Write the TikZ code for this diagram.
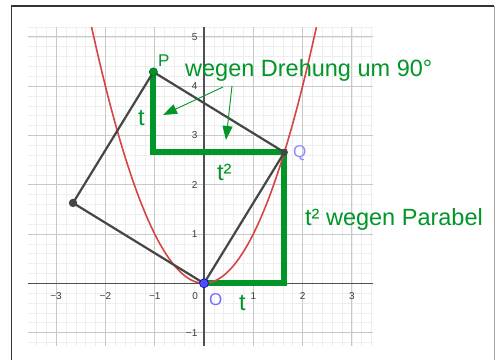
\documentclass[tikz,border=0pt]{standalone}
\usepackage{fontspec}
\setmainfont{Liberation Sans}
\usetikzlibrary{arrows.meta}
\definecolor{gg}{RGB}{0,150,40}
\definecolor{ggdark}{RGB}{0,110,30}
\definecolor{seg}{RGB}{70,70,70}
\definecolor{para}{RGB}{212,70,70}
\definecolor{ptblue}{RGB}{77,77,255}
\definecolor{lblblue}{RGB}{110,110,255}
\definecolor{lblq}{RGB}{140,140,255}
\definecolor{gridmaj}{RGB}{200,200,200}
\definecolor{gridmin}{RGB}{238,238,238}
\definecolor{axisc}{RGB}{80,80,80}
\definecolor{tickc}{RGB}{60,60,60}
\tikzset{
  bigtext/.style={text=gg, font=\fontsize{23.5}{28}\selectfont, inner sep=0pt},
  ptlabel/.style={font=\fontsize{17}{20}\selectfont, inner sep=0pt},
  ticklbl/.style={text=tickc, font=\fontsize{10}{12}\selectfont, inner sep=0pt},
  minorgrid/.style={gridmin, line width=0.6pt},
  majorgrid/.style={gridmaj, line width=0.9pt},
  axisline/.style={axisc, line width=1.1pt},
  segline/.style={seg, line width=2.2pt},
  greenline/.style={gg, line width=6pt, line join=miter},
  pointer/.style={gg, line width=0.9pt, -{Triangle[length=14pt,width=10pt]}},
}
\begin{document}
\begin{tikzpicture}[x=1pt,y=1pt]
\useasboundingbox (0,0) rectangle (495,360);
\fill[white] (0,0) rectangle (495,360);
% frame
\draw[black!80, line width=1.2pt] (11.5,0) -- (11.5,354) -- (494,354);
\draw[black!35, line width=1pt] (494,354) -- (494,0);

\begin{scope}[shift={(204,76.7)}, x=49.3pt, y=49.3pt]
  % minor grid
  \foreach \i in {-17,...,17} \draw[minorgrid] (\i/5,-1.265) -- (\i/5,5.2);
  \foreach \j in {-6,...,26} \draw[minorgrid] (-3.57,\j/5) -- (3.43,\j/5);
  % major grid
  \foreach \i in {-3,...,3} \draw[majorgrid] (\i,-1.265) -- (\i,5.2);
  \foreach \j in {-1,...,5} \draw[majorgrid] (-3.57,\j) -- (3.43,\j);
  % axes
  \draw[axisline] (-3.57,0) -- (3.43,0);
  \draw[axisline] (0,-1.265) -- (0,5.2);
  % tick labels
  \foreach \v/\s in {-3/−3,-2/−2,-1/−1,1/1,2/2,3/3}
    \node[ticklbl, anchor=base] (xt\v) at (\v,-0.32) {\s};
  \node[ticklbl, anchor=base east] (x0) at (-0.12,-0.32) {0};
  \foreach \v/\s in {-1/−1,1/1,2/2,3/3,4/4,5/5}
    \node[ticklbl, anchor=east] (yt\v) at (-0.13,\v) {\s};

  \def\t{1.63}
  \pgfmathsetmacro{\tt}{\t*\t}
  \coordinate (O) at (0,0);
  \coordinate (Q) at (\t,\tt);
  \coordinate (P) at ({\t-\tt},{\t+\tt});
  \coordinate (R) at ({-\tt},\t);
  \coordinate (C1) at ({\t-\tt},\tt);
  \coordinate (C2) at (\t,0);

  % green construction
  \draw[greenline] (P) -- (C1) -- (Q) -- (C2) -- (O);
  % parabola
  \draw[para, line width=1.6pt, domain=-2.28:2.28, samples=80] plot (\x,{\x*\x});
  % square
  \draw[segline, line join=round] (O) -- (Q) -- (P) -- (R) -- cycle;
  % points
  \fill[seg] (R) circle (4.2pt);
  \fill[seg] (Q) circle (3.6pt);
  \filldraw[fill=gg, draw=ggdark, line width=0.8pt] (P) circle (4pt);
  \filldraw[fill=ptblue, draw=blue!70!black, line width=0.6pt] (O) circle (4.5pt);
\end{scope}

% point labels
\node[ptlabel, text=gg, anchor=base west] (lP) at (158,294) {P};
\node[ptlabel, text=lblq, anchor=base west] (lQ) at (293,203) {Q};
\node[ptlabel, text=lblblue, anchor=base west] (lO) at (209,55) {O};

% green texts
\node[bigtext, anchor=base west] (dreh) at (185,284) {wegen Drehung um 90°};
\node[bigtext, anchor=base west] (parab) at (305,135) {t² wegen Parabel};
\node[bigtext, anchor=base west] (tv) at (138,235) {t};
\node[bigtext, anchor=base west] (tsq) at (217,180) {t²};
\node[bigtext, anchor=base west] (tb) at (239,50) {t};

% arrows
\coordinate (a1s) at (223,273);
\coordinate (a1e) at (163,245);
\coordinate (a2s) at (232,274);
\coordinate (a2e) at (226,220);
\draw[pointer] (a1s) -- (a1e);
\draw[pointer] (a2s) -- (a2e);
\end{tikzpicture}
\end{document}
